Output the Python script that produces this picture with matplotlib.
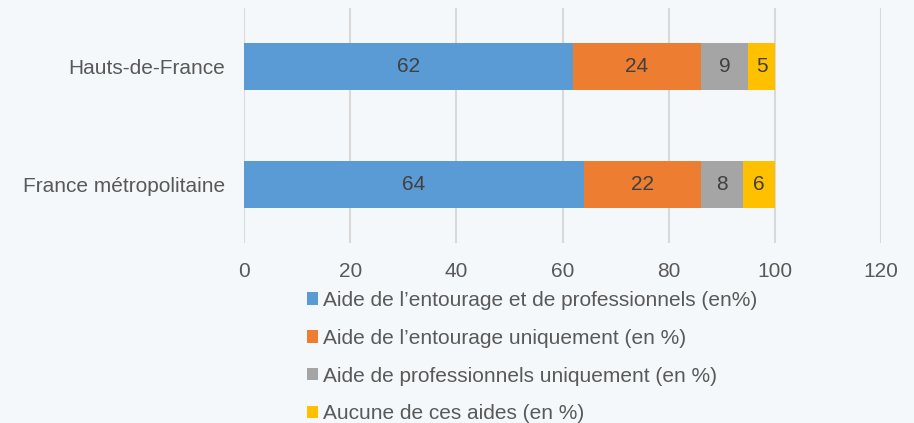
import matplotlib
matplotlib.use("Agg")
import matplotlib.pyplot as plt
import numpy as np

categories = ["Hauts-de-France", "France métropolitaine"]
series_names = [
    "Aide de l\u2019entourage et de professionnels (en%)",
    "Aide de l\u2019entourage uniquement (en %)",
    "Aide de professionnels uniquement (en %)",
    "Aucune de ces aides (en %)",
]
values_both = [62, 64]
values_entourage = [24, 22]
values_pro = [9, 8]
values_none = [5, 6]
colors = ["#5B9BD5", "#ED7D31", "#A5A5A5", "#FFC000"]
xticks = [0, 20, 40, 60, 80, 100, 120]

plt.rcParams['font.family'] = ['Liberation Sans', 'DejaVu Sans']
bg = "#F5F8FB"
fig = plt.figure(figsize=(9.14, 4.23), dpi=100, facecolor=bg)
W, H = 914, 423
ax = fig.add_axes([244 / W, 1 - 243 / H, (881 - 244) / W, (243 - 8) / H])
ax.set_facecolor(bg)

FS = 15
y = np.arange(len(categories))
left = np.zeros(len(categories))
all_vals = [values_both, values_entourage, values_pro, values_none]
handles = []
for name, vals, col in zip(series_names, all_vals, colors):
    vals = np.array(vals, dtype=float)
    b = ax.barh(y, vals, left=left, height=0.4, color=col, label=name, zorder=3)
    handles.append(b)
    for yi, l, v in zip(y, left, vals):
        ax.text(l + v / 2, yi, f"{int(v)}", ha="center", va="center",
                fontsize=FS, color="#404040", zorder=4)
    left += vals

ax.set_xlim(0, 120)
ax.set_ylim(1.5, -0.5)
ax.set_xticks(xticks)
ax.set_xticklabels([str(t) for t in xticks])
ax.set_yticks(y)
ax.set_yticklabels(categories)
ax.tick_params(axis="both", length=0, labelsize=FS, labelcolor="#595959")
ax.tick_params(axis="x", pad=13.5)
ax.tick_params(axis="y", pad=13.5)
ax.grid(axis="x", color="#D9D9D9", linewidth=1.5, zorder=0)
for s in ax.spines.values():
    s.set_visible(False)

fig.legend(handles=handles, labels=series_names, loc="upper left",
           bbox_to_anchor=(307 / W, 1 - 291 / H), frameon=False, ncol=1,
           fontsize=FS, labelcolor="#595959", handlelength=0.55, handleheight=0.55,
           handletextpad=0.2, labelspacing=0.9, borderpad=0, borderaxespad=0)

fig.savefig("out.png", dpi=100, facecolor=bg)
